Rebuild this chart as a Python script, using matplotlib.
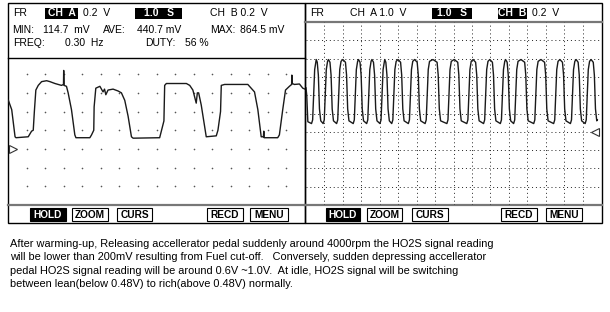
import matplotlib.pyplot as plt
from matplotlib.patches import Rectangle

plt.rcParams['font.family'] = ['Liberation Sans', 'DejaVu Sans']

# channel A trace, left screen (seconds, volts)
left_t = [0.02, 0.20, 0.38, 0.43, 1.09, 1.27, 1.36, 1.42, 1.50, 1.63, 1.81, 2.08, 2.26, 2.53,
          2.88, 2.99, 3.00, 3.02, 3.15, 3.24, 3.42, 3.60, 3.66, 4.41, 4.50, 4.62, 4.64, 4.73,
          4.95, 5.12, 5.20, 5.27, 5.39, 5.66, 5.93, 6.11, 6.29, 6.47, 6.65, 6.74, 8.17, 8.26,
          8.40, 8.44, 8.53, 9.61, 9.79, 9.96, 10.14, 10.20, 10.27, 10.41, 10.68, 11.22, 11.31,
          11.45, 11.49, 11.67, 12.92, 13.10, 13.28, 13.46, 13.64, 13.76, 13.78, 13.80, 14.53,
          14.62, 14.80, 14.95, 15.16, 15.28, 15.29, 15.31, 15.43, 15.70, 15.88, 16.0]
left_v = [0.52, 0.42, 0.13, 0.12, 0.13, 0.19, 0.20, 0.40, 0.63, 0.68, 0.72, 0.73, 0.72, 0.70,
          0.68, 0.69, 0.84, 0.68, 0.67, 0.60, 0.42, 0.15, 0.12, 0.12, 0.15, 0.20, 0.45, 0.65,
          0.67, 0.61, 0.64, 0.58, 0.63, 0.64, 0.62, 0.60, 0.52, 0.35, 0.13, 0.115, 0.12, 0.19,
          0.30, 0.68, 0.70, 0.70, 0.68, 0.63, 0.49, 0.60, 0.60, 0.47, 0.13, 0.14, 0.20,
          0.40, 0.68, 0.69, 0.69, 0.65, 0.61, 0.42, 0.13, 0.13, 0.19, 0.12, 0.12,
          0.15, 0.42, 0.63, 0.67, 0.69, 0.79, 0.70, 0.69, 0.695, 0.65, 0.64]

# channel B trace, right screen: edge times of each rich pulse (seconds)
right_rise = [0.36, 0.99, 1.72, 2.62, 3.35, 4.07, 4.71, 5.61, 6.52, 7.70, 8.78, 9.69,
              10.60, 11.32, 12.41, 13.49, 14.40, 15.20]
right_fall = [0.75, 1.44, 2.28, 3.07, 3.80, 4.47, 5.27, 6.17, 7.25, 8.37, 9.34, 10.25,
              11.05, 12.00, 13.08, 14.05, 14.90, 15.72]
right_high = 0.79
right_low = 0.09

header_left = [
    ('FR', 13, 13), ('0.2  V', 83, 13), ('CH  B 0.2  V', 210, 13),
    ('MIN:', 12, 30), ('114.7  mV', 43, 30), ('AVE:', 103, 30), ('440.7 mV', 137, 30),
    ('MAX:', 210, 30), ('864.5 mV', 240, 30),
    ('FREQ:', 13, 43), ('0.30  Hz', 65, 43), ('DUTY:', 145, 43), ('56 %', 185, 43),
]
header_right = [('FR', 310, 13), ('CH  A 1.0  V', 350, 13), ('0.2  V', 532, 13)]
black_tags = [('CH  A', 45, 78), ('1.0   S', 135, 182), ('1.0   S', 432, 472), ('CH  B', 498, 527)]
buttons = [('HOLD', 30, 66), ('ZOOM', 72, 108), ('CURS', 117, 152), ('RECD', 207, 243),
           ('MENU', 250, 288), ('HOLD', 326, 360), ('ZOOM', 367, 402), ('CURS', 412, 448),
           ('RECD', 501, 537), ('MENU', 546, 582)]

caption = ("After warming-up, Releasing accellerator pedal suddenly around 4000rpm the HO2S signal reading\n"
           "will be lower than 200mV resulting from Fuel cut-off.   Conversely, sudden depressing accellerator\n"
           "pedal HO2S signal reading will be around 0.6V ~1.0V.  At idle, HO2S signal will be switching\n"
           "between lean(below 0.48V) to rich(above 0.48V) normally.")

W, H = 610, 312
fig = plt.figure(figsize=(W / 100, H / 100), dpi=100)


def px_axes(x0, y0, x1, y1):
    return fig.add_axes([x0 / W, 1 - y1 / H, (x1 - x0) / W, (y1 - y0) / H])


bg = px_axes(0, 0, W, H)
bg.set_xlim(0, W)
bg.set_ylim(H, 0)
bg.axis('off')

# waveform areas
axl = px_axes(8, 58, 305, 205)
axl.set_xlim(0, 16)
axl.set_ylim(-0.6, 0.973)
axr = px_axes(306, 22, 601, 205)
axr.set_xlim(0, 16)
axr.set_ylim(-0.8, 1.2)
for ax in (axl, axr):
    ax.axis('off')

# left grid: dots at intersections
gx = [i for i in range(1, 16) for j in range(7)]
gy = [-0.4 + 0.2 * j for i in range(1, 16) for j in range(7)]
axl.scatter(gx, gy, s=1.4, color='#555555', lw=0)
axl.plot(left_t, left_v, color='#1a1a1a', lw=1.0)
axl.plot([0.25], [0.0], marker='>', ms=6, mfc='white', mec='#333333', mew=0.8)

# right grid: dotted lines
for i in range(1, 16):
    axr.axvline(i, color='#222222', lw=0.7, ls=(0, (1, 3)))
for j in range(1, 10):
    axr.axhline(-0.8 + 0.2 * j, color='#222222', lw=0.7, ls=(0, (1, 3)))

# rich pulses with slanted edges and rounded corners
rt, rv = [0.0, 0.04, 0.10], [0.48, 0.40, right_low + 0.02]
for r, f in zip(right_rise, right_fall):
    mid = (r + f) / 2
    rt += [r - 0.06, r, r + 0.05, r + 0.11, r + 0.18, mid, f - 0.14, f - 0.08, f - 0.02, f + 0.05]
    rv += [right_low, right_low + 0.04, 0.38, 0.68, right_high - 0.02, right_high,
           right_high - 0.03, 0.62, 0.25, right_low + 0.03]
rt.append(15.8)
rv.append(right_low + 0.04)
axr.plot(rt, rv, color='#1a1a1a', lw=1.0)
axr.plot([15.7], [0.0], marker='<', ms=6, mfc='white', mec='#333333', mew=0.8)

# frames
for x0, x1 in ((8, 305), (305, 602)):
    bg.add_patch(Rectangle((x0, 3), x1 - x0, 220, fill=False, ec='black', lw=1.0))
    bg.plot([x0, x1], [205, 205], color='#777777', lw=1.6)
bg.plot([8, 305], [58, 58], color='black', lw=1.0)
bg.plot([305, 602], [22, 22], color='#777777', lw=1.6)

for s, x, y in header_left + header_right:
    bg.text(x, y, s, fontsize=7.5, ha='left', va='center', color='black')
for s, x0, x1 in black_tags:
    bg.add_patch(Rectangle((x0, 8), x1 - x0, 11, color='black', lw=0))
    bg.text((x0 + x1) / 2, 13.5, s, fontsize=7.5, ha='center', va='center', color='white',
            fontweight='bold')

for s, x0, x1 in buttons:
    dark = s == 'HOLD'
    bg.add_patch(Rectangle((x0, 208), x1 - x0, 13, fc='black' if dark else 'white',
                           ec='black', lw=0.8))
    bg.text((x0 + x1) / 2, 214.5, s, fontsize=7.3, ha='center', va='center',
            color='white' if dark else 'black', fontweight='bold')

bg.text(10, 239, caption, fontsize=7.9, ha='left', va='top', linespacing=1.42)

fig.savefig('out.png', dpi=100)
